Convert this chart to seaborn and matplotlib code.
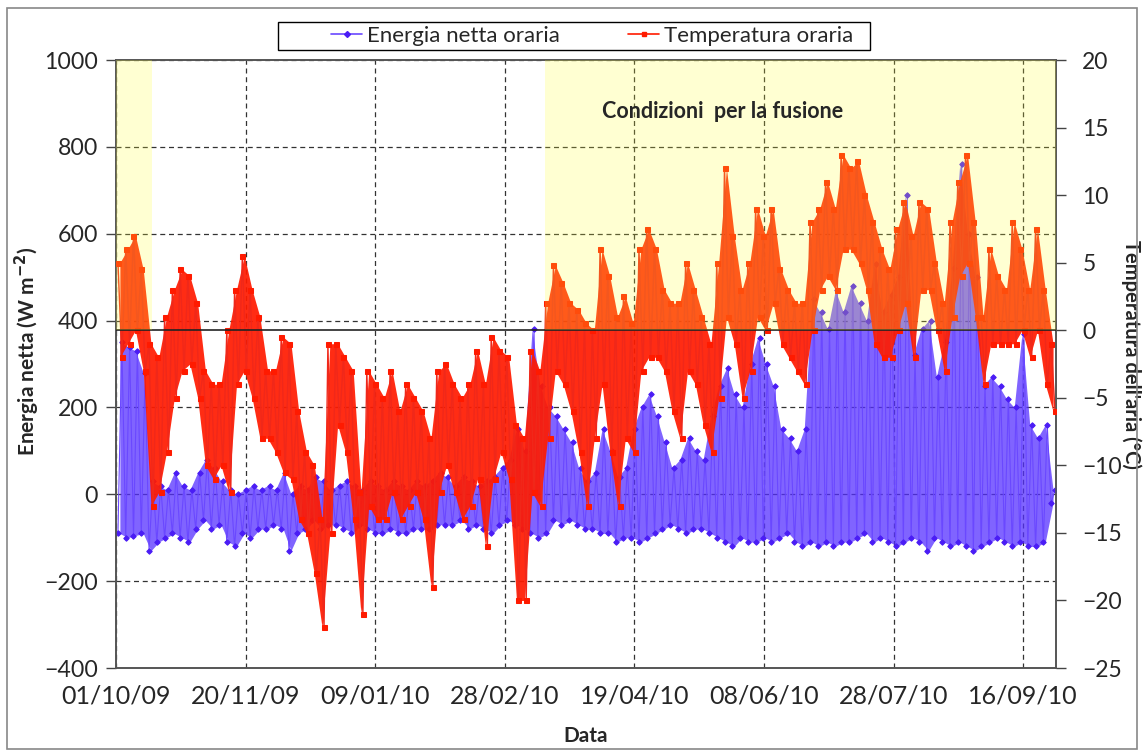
import numpy as np
import pandas as pd
import matplotlib
matplotlib.use("Agg")
import matplotlib.pyplot as plt
from matplotlib.patches import Rectangle
from matplotlib.lines import Line2D
import seaborn as sns

# ---- data (3-day bins; day 0 = 01/10/09) ----
bin_start = list(range(0, 363, 3))
temp_max = [5, 6, 7, 4.5, -1, -2, 1, 3, 4.5, 4, 2, -3, -4, -4, 0, 3, 5.5, 3, 1, -3,
            -3, -0.5, -1, -6, -9, -10, -14, -1, -1, -2, -3, -12, -3, -4, -5, -3, -6, -4, -5, -6,
            -8, -3, -2.5, -4, -5, -4, -1.5, -4, -0.5, -1.5, -2, -7, -8, -1.5, -3, 2, 4.8, 3.5, 2, 1.5,
            0.5, 0, 6, 4, 1, 2.5, 0.5, 6, 7.5, 6, 3, 2, 2, 5, 3, 1, -1, 5, 12, 7,
            3, 5, 9, 7, 9, 4.5, 3, 2, 2, 8, 9, 11, 9, 13, 12, 12.5, 10, 8, 6, 4.5,
            7.5, 9.5, 7, 9.5, 9, 5, 2, 8, 11, 13, 8, 1, 6, 4, 3, 8, 6, 3, 7.5, 3, -1]
temp_min = [-2, -1, 0, -3, -13, -12, -9, -5, -3, -2.5, -5, -10, -11, -10, -12, -4, -3, -5, -8, -8,
            -9, -10.5, -11, -14, -15, -18, -22, -15, -7, -9, -14, -21, -13, -14, -14, -12, -14, -13, -12, -14,
            -19, -12, -10, -12, -14, -13, -11, -16, -11, -9, -11, -20, -20, -12, -13, -8, -3, -4, -6, -9,
            -13, -8, -4, -9, -13, -8, -9, -3, -2, -2, -3, -6, -8, -3, -4, -7, -9, -5, 1, -1,
            -5, -3, 1, 0, 2, -1, -2, -3, -4, 0, 3, 4, 3, 6, 6, 5, 3, -1, -2, -2,
            0, 2, -2, 3, 3, 0, -3, 1, 4, 5, 1, -4, -1, -1, -1, -1, 0, -2, 0, -4, -6]
energy_max = [350, 340, 330, 280, 30, 20, 10, 50, 20, 10, 50, 80, 60, 30, 10, 0, 10, 20, 10, 20,
              10, 50, 0, 20, 10, 40, 30, 10, 20, 30, 20, 10, 30, 20, 10, 30, 20, 10, 30, 20,
              30, 50, 40, 20, 40, 30, 20, 30, 40, 60, 80, 150, 100, 380, 250, 200, 180, 150, 120, 60,
              30, 50, 150, 100, 40, 60, 150, 200, 230, 180, 120, 60, 80, 130, 100, 80, 180, 250, 290, 230,
              200, 300, 360, 300, 250, 150, 130, 100, 150, 450, 420, 380, 470, 420, 480, 440, 400, 530, 420, 460,
              500, 690, 320, 380, 400, 270, 350, 520, 760, 600, 500, 250, 270, 250, 220, 200, 370, 160, 130, 160, 10]
energy_min = [-90, -100, -95, -90, -130, -110, -100, -90, -100, -110, -80, -60, -80, -70, -110, -120, -90, -100, -80, -80,
              -70, -80, -130, -90, -80, -60, -80, -70, -70, -80, -90, -70, -80, -90, -90, -80, -90, -90, -80, -80,
              -80, -70, -70, -70, -60, -80, -70, -80, -90, -70, -60, -70, -80, -90, -100, -90, -60, -70, -60, -70,
              -80, -80, -90, -90, -110, -100, -100, -110, -100, -90, -80, -70, -80, -90, -80, -80, -90, -100, -110, -120,
              -100, -110, -110, -100, -110, -100, -90, -110, -120, -110, -120, -110, -120, -110, -110, -100, -90, -110, -100, -110,
              -120, -110, -100, -110, -130, -100, -110, -120, -110, -120, -130, -120, -110, -100, -110, -120, -110, -120, -120, -110, -20]
tick_days = [0, 50, 100, 150, 200, 250, 300, 350]
tick_labels = ['01/10/09', '20/11/09', '09/01/10', '28/02/10', '19/04/10',
               '08/06/10', '28/07/10', '16/09/10']
melt_periods = [(0, 14), (165.6, 362.6)]

# ---- build zigzag series (max / min alternating per bin) ----
d = np.array(bin_start, dtype=float)
x_pts = np.ravel(np.column_stack([d + 0.75, d + 2.25]))
t_pts = np.ravel(np.column_stack([temp_max, temp_min]))
e_pts = np.ravel(np.column_stack([energy_min, energy_max]))
df_t = pd.DataFrame({"giorno": x_pts, "T": t_pts})
df_e = pd.DataFrame({"giorno": x_pts, "E": e_pts})

sns.set_theme(style="white")
plt.rcParams['font.family'] = ['Lato', 'DejaVu Sans']

fig = plt.figure(figsize=(11.44, 7.56), dpi=100)
ax = fig.add_axes([0.1014, 0.1164, 0.8216, 0.8042])
ax2 = ax.twinx()

blue_line = '#6a48ff'
blue_mk = '#4a1cf5'
red = '#ff1a00'

# energy (left axis)
ax.fill_between(d + 1.5, energy_min, energy_max, color='#5530ff', alpha=0.75, lw=0, zorder=2)
sns.lineplot(data=df_e, x="giorno", y="E", ax=ax, estimator=None, sort=False,
             color=blue_line, lw=0.8, marker='D', markersize=2.8,
             markerfacecolor=blue_mk, markeredgecolor=blue_mk, zorder=3)

# temperature (right axis)
ax2.fill_between(d + 1.5, temp_min, temp_max, color=red, alpha=0.92, lw=0, zorder=2)
sns.lineplot(data=df_t, x="giorno", y="T", ax=ax2, estimator=None, sort=False,
             color='#f0281a', lw=1.0, marker='s', markersize=3.6,
             markerfacecolor=red, markeredgecolor=red, zorder=3)
ax2.axhline(0, color='#222222', lw=1.2, zorder=4)

for a, b in melt_periods:
    ax2.fill_between([a, b], 0, 20, color='#ffff33', alpha=0.22, lw=0, zorder=5)

ax2.text(234, 16.2, 'Condizioni  per la fusione', fontsize=15.5, fontweight='bold',
         ha='center', va='center', zorder=6)

# axes limits and ticks
ax.set_xlim(0, 362.6)
ax.set_ylim(-400, 1000)
ax2.set_ylim(-25, 20)
ax.set_yticks(range(-400, 1001, 200))
ax2.set_yticks(range(-25, 21, 5))
ax.set_xticks(tick_days)
ax.set_xticklabels(tick_labels)

ax.grid(True, which='major', axis='both', color='#333333', ls=(0, (4, 3)), lw=0.9)
ax.set_axisbelow(True)
ax2.grid(False)

ax.tick_params(axis='y', labelsize=16.7, direction='out', length=7, width=1, color='#444444', left=True, pad=6)
ax.tick_params(axis='x', labelsize=18, length=0, pad=12)
ax2.tick_params(axis='y', labelsize=16.5, direction='out', length=7, width=1, color='#444444', right=True, pad=12)

for a in (ax, ax2):
    for s in a.spines.values():
        s.set_color('#555555')
        s.set_linewidth(1.2)

ax.set_xlabel('Data', fontsize=15, fontweight='bold', labelpad=13)
ax.set_ylabel(r'Energia netta (W m$^{\mathbf{-2}}$)', fontsize=15, fontweight='bold', va='center')
ax2.set_ylabel("Temperatura dell'aria (°C)", fontsize=14.5, fontweight='bold', rotation=270, va='center')
ax.yaxis.set_label_coords(-0.094, 0.52)
ax2.yaxis.set_label_coords(1.080, 0.515)

# legend box (drawn separately) and entries
fig.patches.append(Rectangle((278 / 1144, 1 - 50 / 756), (870 - 278) / 1144, 28 / 756,
                             transform=fig.transFigure, facecolor='white',
                             edgecolor='black', lw=1.0, zorder=10))
handles = [Line2D([], [], color=blue_line, lw=1.2, marker='D', markersize=3,
                  markerfacecolor=blue_mk, markeredgecolor=blue_mk),
           Line2D([], [], color=red, lw=1.2, marker='s', markersize=3.5,
                  markerfacecolor=red, markeredgecolor=red)]
leg = fig.legend(handles, ['Energia netta oraria', 'Temperatura oraria'], ncol=2,
                 loc='center left', bbox_to_anchor=(331 / 1144, 1 - 36 / 756), fontsize=16,
                 frameon=False, handlelength=1.4, columnspacing=3.1,
                 borderpad=0.0, borderaxespad=0.0, handletextpad=0.2)
leg.set_zorder(11)

# outer frame
fig.patches.append(Rectangle((0.006, 0.009), 0.988, 0.980, transform=fig.transFigure,
                             fill=False, edgecolor='#888888', lw=1.2))

fig.savefig('out.png', dpi=100)
